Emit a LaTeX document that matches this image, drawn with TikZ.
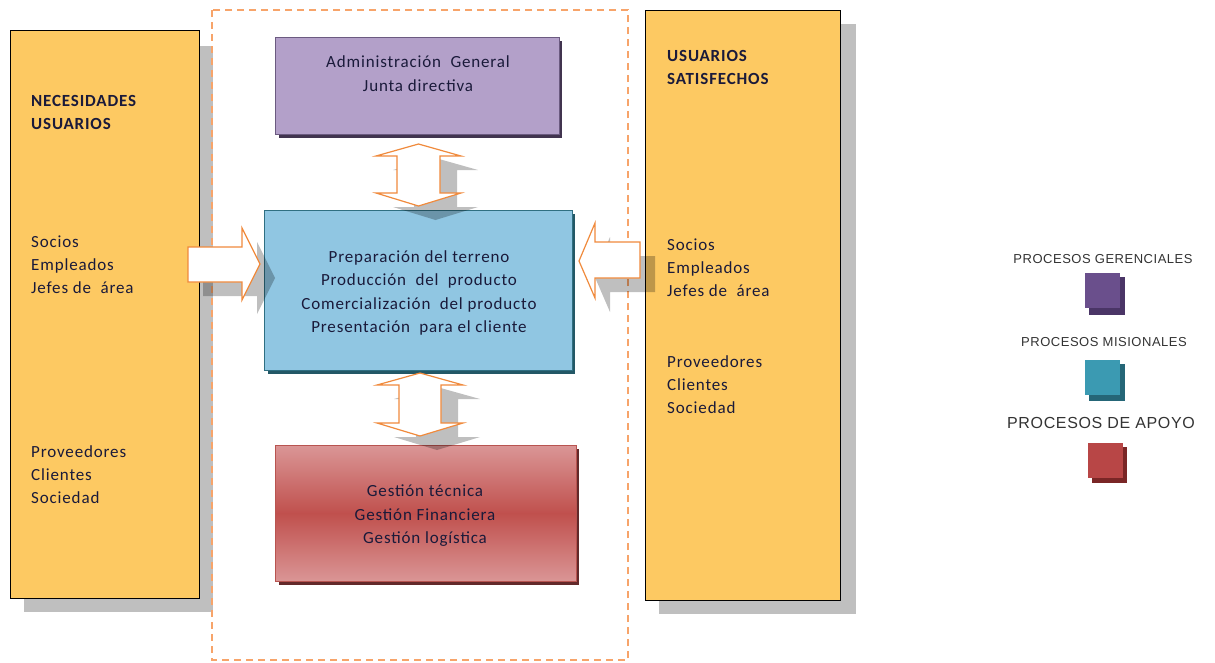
\documentclass[tikz,border=0pt]{standalone}
\usepackage{fontspec}
\setmainfont{Carlito}[LetterSpace=5]
\newfontfamily\legfont{Liberation Sans}[LetterSpace=4]
\usetikzlibrary{calc}
\definecolor{ybox}{HTML}{FDC962}
\definecolor{purfill}{HTML}{B3A0C9}
\definecolor{purline}{HTML}{6B5A80}
\definecolor{purshad}{HTML}{41344F}
\definecolor{blufill}{HTML}{90C6E2}
\definecolor{bluline}{HTML}{2F6F82}
\definecolor{blushad}{HTML}{235866}
\definecolor{redlight}{HTML}{DA9696}
\definecolor{redmid}{HTML}{C0504D}
\definecolor{redline}{HTML}{B85450}
\definecolor{redshad}{HTML}{63292A}
\definecolor{orangeln}{HTML}{F08A3C}
\definecolor{dashorange}{HTML}{F7A46A}
\definecolor{txt}{HTML}{1A1A3A}
\definecolor{legtxt}{HTML}{333333}
\definecolor{legpur}{HTML}{6A4F8C}
\definecolor{legpurs}{HTML}{4A3566}
\definecolor{legblu}{HTML}{3B9AB2}
\definecolor{legblus}{HTML}{256677}
\definecolor{legred}{HTML}{B84646}
\definecolor{legreds}{HTML}{7A2626}
\tikzset{
  txtfont/.style={font=\fontsize{17}{23.3}\selectfont, text=txt, inner sep=0pt},
  headfont/.style={font=\fontsize{17}{23.3}\selectfont\bfseries, text=txt, inner sep=0pt},
  ybx/.style={draw=black, line width=0.8pt, fill=ybox},
  yshadow/.style={fill=black!25},
  arrowshape/.style={draw=orangeln, line width=1.2pt, fill=white, line join=miter},
  arrowshadow/.style={fill=black, fill opacity=0.25},
  leglabel/.style={font=\legfont\fontsize{13}{15}\selectfont, text=legtxt},
}
\begin{document}
\begin{tikzpicture}[x=1pt,y=-1pt]
\useasboundingbox (0,0) rectangle (1215,662);
\fill[white] (0,0) rectangle (1215,662);

% yellow boxes with shadows
\fill[yshadow] (24,46) rectangle (213,612);
\draw[ybx] (10,30) rectangle (199,598);
\fill[yshadow] (659,24) rectangle (856,614);
\draw[ybx] (645,10) rectangle (840,600);

% dashed frame
\draw[dashorange, line width=1.6pt, dash pattern=on 7pt off 5pt] (212,10) rectangle (628,660);

% purple box
\fill[purshad] (279,41) rectangle (562,138);
\node[draw=purline, line width=0.8pt, fill=purfill, minimum width=284pt, minimum height=97pt, anchor=north west, inner sep=0pt] (adm) at (275,37) {};
\node[txtfont, align=center, anchor=base] (admt) at (418,91) {Administración\ \ General\\Junta directiva};

% blue box
\fill[blushad] (268,214) rectangle (575,374);
\node[draw=bluline, line width=1pt, fill=blufill, minimum width=308pt, minimum height=160pt, anchor=north west, inner sep=0pt] (mis) at (264,210) {};
\node[txtfont, align=center, anchor=base] (mist) at (419,332.5) {Preparación del terreno\\Producción\ \ del\ \ producto\\Comercialización\ \ del producto\\Presentación\ \ para el cliente};

% red box
\fill[redshad] (279,449) rectangle (579,585);
\node[draw=redline, line width=0.8pt, top color=redlight, bottom color=redlight, middle color=redmid, minimum width=301pt, minimum height=136pt, anchor=north west, inner sep=0pt] (apo) at (275,445) {};
\node[txtfont, align=center, anchor=base] (apot) at (425,543.5) {Gestión técnica\\Gestión Financiera\\Gestión logística};

% arrow shadows
\begin{scope}[shift={(17,14)}]
\fill[arrowshadow] (418.5,144) -- (461,156) -- (440,156) -- (440,193) -- (461,193) -- (418.5,206) -- (376,193) -- (397,193) -- (397,156) -- (376,156) -- cycle;
\fill[arrowshadow] (420,373) -- (463,385) -- (441,385) -- (441,423) -- (463,423) -- (420,436) -- (377,423) -- (399,423) -- (399,385) -- (377,385) -- cycle;
\end{scope}
\begin{scope}[shift={(15,14)}]
\fill[arrowshadow] (188,247) -- (242,247) -- (242,228) -- (260,264) -- (242,300) -- (242,282) -- (188,282) -- cycle;
\fill[arrowshadow] (640,242) -- (595,242) -- (595,223) -- (579,261) -- (595,298) -- (595,278) -- (640,278) -- cycle;
\end{scope}

% arrows
\draw[arrowshape] (418.5,144) -- (461,156) -- (440,156) -- (440,193) -- (461,193) -- (418.5,206) -- (376,193) -- (397,193) -- (397,156) -- (376,156) -- cycle;
\draw[arrowshape] (420,373) -- (463,385) -- (441,385) -- (441,423) -- (463,423) -- (420,436) -- (377,423) -- (399,423) -- (399,385) -- (377,385) -- cycle;
\draw[arrowshape] (188,247) -- (242,247) -- (242,228) -- (260,264) -- (242,300) -- (242,282) -- (188,282) -- cycle;
\draw[arrowshape] (640,242) -- (595,242) -- (595,223) -- (579,261) -- (595,298) -- (595,278) -- (640,278) -- cycle;

% left box texts
\node[headfont, align=left, anchor=base west] (nec) at (31,129.3) {NECESIDADES\\USUARIOS};
\node[txtfont, align=left, anchor=base west] (lsoc) at (31,293.6) {Socios\\Empleados\\Jefes de\ \ área};
\node[txtfont, align=left, anchor=base west] (lprov) at (31,503.6) {Proveedores\\Clientes\\Sociedad};

% right box texts
\node[headfont, align=left, anchor=base west] (sat) at (667,84.3) {USUARIOS\\SATISFECHOS};
\node[txtfont, align=left, anchor=base west] (rsoc) at (667,296.6) {Socios\\Empleados\\Jefes de\ \ área};
\node[txtfont, align=left, anchor=base west] (rprov) at (667,413.6) {Proveedores\\Clientes\\Sociedad};

% legend
\node[leglabel] (lg1) at (1103,259) {PROCESOS GERENCIALES};
\fill[legpurs] (1089,277) rectangle (1125,315);
\node[fill=legpur, minimum size=35pt, inner sep=0pt, anchor=north west] (sq1) at (1085,273) {};
\node[leglabel] (lg2) at (1104,342) {PROCESOS MISIONALES};
\fill[legblus] (1089,364) rectangle (1125,401);
\node[fill=legblu, minimum size=35pt, inner sep=0pt, anchor=north west] (sq2) at (1085,360) {};
\node[leglabel, font=\legfont\fontsize{16}{18}\selectfont] (lg3) at (1101,423) {PROCESOS DE APOYO};
\fill[legreds] (1092,447) rectangle (1127,483);
\node[fill=legred, minimum size=35pt, inner sep=0pt, anchor=north west] (sq3) at (1088,443) {};
\end{tikzpicture}
\end{document}
